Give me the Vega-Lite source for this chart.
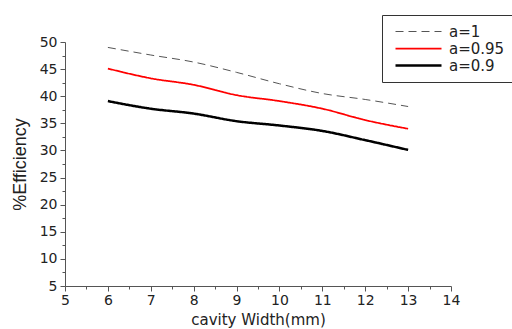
{
  "$schema": "https://vega.github.io/schema/vega-lite/v6.json",
  "width": 386,
  "height": 244,
  "autosize": {"type": "none"},
  "padding": {"left": 65, "top": 42, "right": 61, "bottom": 43},
  "background": "white",
  "config": {"view": {"stroke": null}, "font": "DejaVu Sans"},
  "data": {"values": [
    {"w": 6, "eff": 49.0, "a": "a=1"},
    {"w": 7, "eff": 47.6, "a": "a=1"},
    {"w": 8, "eff": 46.3, "a": "a=1"},
    {"w": 9, "eff": 44.4, "a": "a=1"},
    {"w": 10, "eff": 42.3, "a": "a=1"},
    {"w": 11, "eff": 40.5, "a": "a=1"},
    {"w": 12, "eff": 39.4, "a": "a=1"},
    {"w": 13, "eff": 38.1, "a": "a=1"},
    {"w": 6, "eff": 45.1, "a": "a=0.95"},
    {"w": 7, "eff": 43.3, "a": "a=0.95"},
    {"w": 8, "eff": 42.1, "a": "a=0.95"},
    {"w": 9, "eff": 40.2, "a": "a=0.95"},
    {"w": 10, "eff": 39.1, "a": "a=0.95"},
    {"w": 11, "eff": 37.7, "a": "a=0.95"},
    {"w": 12, "eff": 35.6, "a": "a=0.95"},
    {"w": 13, "eff": 34.0, "a": "a=0.95"},
    {"w": 6, "eff": 39.1, "a": "a=0.9"},
    {"w": 7, "eff": 37.7, "a": "a=0.9"},
    {"w": 8, "eff": 36.8, "a": "a=0.9"},
    {"w": 9, "eff": 35.4, "a": "a=0.9"},
    {"w": 10, "eff": 34.6, "a": "a=0.9"},
    {"w": 11, "eff": 33.6, "a": "a=0.9"},
    {"w": 12, "eff": 31.9, "a": "a=0.9"},
    {"w": 13, "eff": 30.1, "a": "a=0.9"}
  ]},
  "mark": {"type": "line", "interpolate": "monotone"},
  "encoding": {
    "x": {
      "field": "w", "type": "quantitative",
      "scale": {"domain": [5, 14], "nice": false, "zero": false},
      "axis": {
        "title": "cavity Width(mm)",
        "values": [5, 5.5, 6, 6.5, 7, 7.5, 8, 8.5, 9, 9.5, 10, 10.5, 11, 11.5, 12, 12.5, 13, 13.5, 14],
        "labelExpr": "datum.value % 1 === 0 ? format(datum.value, 'd') : ''",
        "grid": false,
        "domainColor": "#555",
        "tickColor": "#555",
        "tickSize": {"condition": {"test": "datum.value % 1 === 0", "value": 5}, "value": 3},
        "labelFontSize": 14,
        "labelColor": "#222",
        "labelFlush": false,
        "labelOverlap": false,
        "labelPadding": 2,
        "titleFontSize": 15,
        "titleFontWeight": "normal",
        "titleColor": "#222",
        "titlePadding": 5
      }
    },
    "y": {
      "field": "eff", "type": "quantitative",
      "scale": {"domain": [5, 50], "nice": false, "zero": false},
      "axis": {
        "title": "%Efficiency",
        "values": [5, 7.5, 10, 12.5, 15, 17.5, 20, 22.5, 25, 27.5, 30, 32.5, 35, 37.5, 40, 42.5, 45, 47.5, 50],
        "labelExpr": "datum.value % 5 === 0 ? format(datum.value, 'd') : ''",
        "grid": false,
        "domainColor": "#555",
        "tickColor": "#555",
        "tickSize": {"condition": {"test": "datum.value % 5 === 0", "value": 5}, "value": 3},
        "labelFontSize": 14,
        "labelColor": "#222",
        "labelFlush": false,
        "labelOverlap": false,
        "labelPadding": 3,
        "titleFont": "Liberation Sans",
        "titleFontSize": 18,
        "titleFontWeight": "normal",
        "titleColor": "#222",
        "titlePadding": 10
      }
    },
    "color": {
      "field": "a", "type": "nominal",
      "scale": {"domain": ["a=1", "a=0.95", "a=0.9"], "range": ["#555555", "#ff0000", "#000000"]},
      "legend": {
        "title": null,
        "orient": "none",
        "legendX": 317,
        "legendY": -27,
        "symbolType": "M-1,0H1",
        "symbolSize": 2116,
        "symbolOffset": 4,
        "clipHeight": 17,
        "labelFontSize": 15,
        "labelColor": "#222",
        "labelOffset": 6,
        "rowPadding": 0,
        "padding": 8,
        "strokeColor": "#333",
        "fillColor": "white"
      }
    },
    "strokeDash": {
      "field": "a", "type": "nominal",
      "scale": {"domain": ["a=1", "a=0.95", "a=0.9"], "range": [[8, 5], [1, 0], [1, 0]]},
      "legend": null
    },
    "strokeWidth": {
      "field": "a", "type": "nominal",
      "scale": {"domain": ["a=1", "a=0.95", "a=0.9"], "range": [1, 2.5, 2.5]},
      "legend": null
    }
  }
}
